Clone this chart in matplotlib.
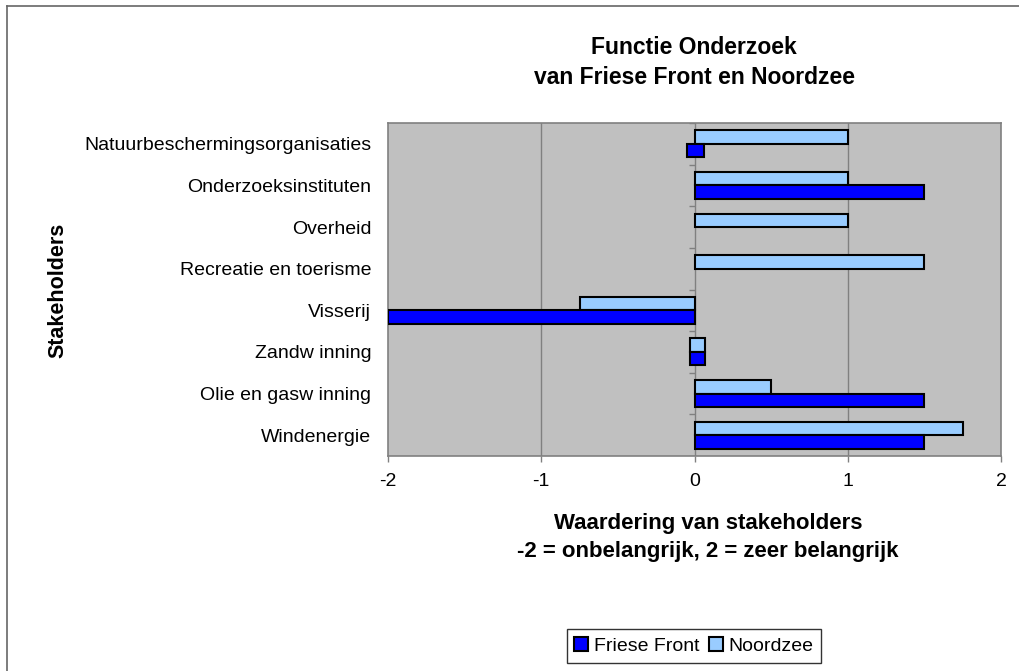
import matplotlib.pyplot as plt
import numpy as np
from matplotlib.lines import Line2D

plt.rcParams['font.family'] = ['Liberation Sans', 'DejaVu Sans']

# data
stakeholders = ['Natuurbeschermingsorganisaties', 'Onderzoeksinstituten', 'Overheid',
                'Recreatie en toerisme', 'Visserij', 'Zandw inning',
                'Olie en gasw inning', 'Windenergie']
# bars are stored as start / end on the value axis (near-zero scores show as small boxes)
friese_start = [-0.05, 0, 0, 0, 0, -0.03, 0, 0]
friese_end = [0.06, 1.5, 0, 0, -2.0, 0.07, 1.5, 1.5]
noordzee_start = [0, 0, 0, 0, 0, -0.03, 0, 0]
noordzee_end = [1.0, 1.0, 1.0, 1.5, -0.75, 0.07, 0.5, 1.75]
x_ticks = [-2, -1, 0, 1, 2]

DARK = '#0000FF'
LIGHT = '#99CCFF'
GRAY = '#808080'

fig = plt.figure(figsize=(10.19, 6.71), dpi=100)
ax = fig.add_axes([388 / 1019, 1 - 456 / 671, (1001 - 388) / 1019, (456 - 123) / 671])
ax.set_facecolor('#C0C0C0')

y = np.arange(len(stakeholders))
h = 0.325
f_start = np.array(friese_start)
f_w = np.array(friese_end) - f_start
n_start = np.array(noordzee_start)
n_w = np.array(noordzee_end) - n_start

# empty bars get no outline
f_edges = ['black' if w != 0 else 'none' for w in f_w]
n_edges = ['black' if w != 0 else 'none' for w in n_w]

ax.barh(y - h / 2, n_w, left=n_start, height=h, color=LIGHT,
        edgecolor=n_edges, linewidth=1.5, label='Noordzee', zorder=3)
ax.barh(y + h / 2, f_w, left=f_start, height=h, color=DARK,
        edgecolor=f_edges, linewidth=1.5, label='Friese Front', zorder=3)

ax.set_xlim(-2, 2)
ax.set_ylim(len(stakeholders) - 0.5, -0.5)

# gridlines and the category axis at zero
for xv in x_ticks[1:-1]:
    ax.axvline(xv, color=GRAY, linewidth=1, zorder=1)
bounds = np.arange(-0.5, len(stakeholders) + 0.5)
ax.hlines(bounds, -0.035, 0, color=GRAY, linewidth=1, zorder=1)

ax.set_xticks(x_ticks)
ax.set_xticklabels([str(v) for v in x_ticks], fontsize=14)
ax.tick_params(axis='x', direction='out', length=4, width=1, color=GRAY, pad=8)
ax.set_yticks(y)
ax.set_yticklabels(stakeholders, fontsize=14)
ax.tick_params(axis='y', length=0, pad=12)
for sp in ax.spines.values():
    sp.set_color(GRAY)
    sp.set_linewidth(1.2)

fig.text(694 / 1019, 1 - 47 / 671, 'Functie Onderzoek', ha='center', va='center',
         fontsize=16.5, fontweight='bold')
fig.text(694 / 1019, 1 - 78 / 671, 'van Friese Front en Noordzee', ha='center', va='center',
         fontsize=16.5, fontweight='bold')
fig.text(708 / 1019, 1 - 523 / 671, 'Waardering van stakeholders', ha='center', va='center',
         fontsize=16, fontweight='bold')
fig.text(708 / 1019, 1 - 551 / 671, '-2 = onbelangrijk, 2 = zeer belangrijk', ha='center',
         va='center', fontsize=16, fontweight='bold')
fig.text(58 / 1019, 1 - 290 / 671, 'Stakeholders', ha='center', va='center',
         rotation=90, fontsize=15.5, fontweight='bold')

handles, labels = ax.get_legend_handles_labels()
leg = fig.legend(handles[::-1], labels[::-1], loc='center', ncol=2,
                 bbox_to_anchor=(694 / 1019, 1 - 646 / 671), fontsize=14,
                 handlelength=0.7, handleheight=0.7, handletextpad=0.3,
                 columnspacing=0.5, borderpad=0.4, fancybox=False, frameon=True)
leg.get_frame().set_edgecolor('black')
leg.get_frame().set_linewidth(1)

# outer chart border (left and top visible)
fig.add_artist(Line2D([7 / 1019, 7 / 1019], [0, 1 - 6 / 671], color='#666666', linewidth=1.2))
fig.add_artist(Line2D([7 / 1019, 1], [1 - 6 / 671, 1 - 6 / 671], color='#666666', linewidth=1.2))

fig.savefig('out.png', dpi=100, facecolor='white')
